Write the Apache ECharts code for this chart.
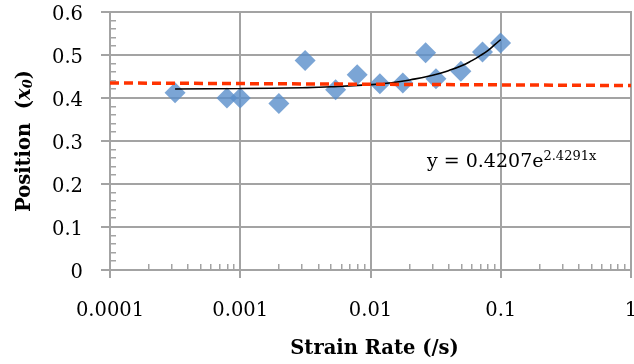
<!DOCTYPE html>
<html><head><meta charset="utf-8">
<script src="https://cdn.jsdelivr.net/npm/echarts@6/dist/echarts.min.js"></script>
<style>html,body{margin:0;padding:0;background:#fff}#c{width:634px;height:364px}</style>
</head><body><div id="c"></div>
<script>
// measured points
const strainRate = [0.000316, 0.00079, 0.001, 0.00198, 0.00315, 0.0054, 0.0079, 0.0118, 0.0177, 0.0265, 0.0318, 0.0494, 0.0724, 0.0997];
const position   = [0.412, 0.400, 0.400, 0.387, 0.487, 0.419, 0.454, 0.433, 0.435, 0.505, 0.445, 0.462, 0.507, 0.528];
// exponential trendline
const trendX = [0.000316, 0.001, 0.003, 0.005, 0.01, 0.015, 0.02, 0.03, 0.04, 0.05, 0.06, 0.07, 0.08, 0.09, 0.1];
const trendY = [0.421, 0.422, 0.424, 0.426, 0.431, 0.436, 0.442, 0.453, 0.464, 0.475, 0.487, 0.499, 0.511, 0.524, 0.536];
// red dashed reference line
const refX = [0.0001, 1];
const refY = [0.435, 0.429];
// axes
const xMajorTicks = [0.0001, 0.001, 0.01, 0.1, 1];
const xTickLabels = ['0.0001', '0.001', '0.01', '0.1', '1'];
const yMajorTicks = [0, 0.1, 0.2, 0.3, 0.4, 0.5, 0.6];
const yTickLabels = ['0', '0.1', '0.2', '0.3', '0.4', '0.5', '0.6'];
const xMinorTicks = [0.0002,0.0003,0.0004,0.0005,0.0006,0.0007,0.0008,0.0009,
  0.002,0.003,0.004,0.005,0.006,0.007,0.008,0.009,
  0.02,0.03,0.04,0.05,0.06,0.07,0.08,0.09,
  0.2,0.3,0.4,0.5,0.6,0.7,0.8,0.9];
const yMinorTicks = [0.02,0.04,0.06,0.08,0.12,0.14,0.16,0.18,0.22,0.24,0.26,0.28,
  0.32,0.34,0.36,0.38,0.42,0.44,0.46,0.48,0.52,0.54,0.56,0.58];
const equationMain = 'y = 0.4207e';
const equationExp = '2.4291x';

const FONT = 'DejaVu Serif';
const GRID = '#A3A3A3';
const X0 = xMajorTicks[0], X1 = xMajorTicks[xMajorTicks.length - 1];
const Y0 = yMajorTicks[0], Y1 = yMajorTicks[yMajorTicks.length - 1];
const chart = echarts.init(document.getElementById('c'), null, {renderer: 'canvas'});
const zip = (a, b) => a.map((v, i) => [v, b[i]]);

function deco(data, renderItem, z) {
  return {type: 'custom', silent: true, clip: false, z: z || 1, data: data, renderItem: renderItem};
}

chart.setOption({
  animation: false,
  grid: {left: 110, right: 3, top: 12, bottom: 94},
  xAxis: {
    type: 'log', logBase: 10, min: X0, max: X1,
    name: 'Strain Rate (/s)', nameLocation: 'middle', nameGap: 69,
    nameTextStyle: {fontFamily: FONT, fontWeight: 'bold', fontSize: 19.5, color: '#000', padding: [0, 0, 0, 8]},
    axisLine: {show: false}, axisTick: {show: false}, axisLabel: {show: false}, splitLine: {show: false}
  },
  yAxis: {
    type: 'value', min: Y0, max: Y1, interval: 0.1,
    name: '{n|Position  (}{i|x}{s|0}{n|)}', nameLocation: 'middle', nameGap: 75, nameRotate: 90,
    nameTextStyle: {
      rich: {
        n: {fontFamily: FONT, fontWeight: 'bold', fontSize: 19.5, color: '#000'},
        i: {fontFamily: FONT, fontWeight: 'bold', fontStyle: 'italic', fontSize: 19.5, color: '#000'},
        s: {fontFamily: FONT, fontWeight: 'bold', fontStyle: 'italic', fontSize: 13, color: '#000', verticalAlign: 'bottom', padding: [7, 0, 0, 0]}
      }
    },
    axisLine: {show: false}, axisTick: {show: false}, axisLabel: {show: false}, splitLine: {show: false}
  },
  series: [
    // vertical grid lines + outside major ticks
    deco(xMajorTicks.map((v, i) => [v, Y0, i]), (p, api) => {
      const a = api.coord([api.value(0), Y0]);
      const b = api.coord([api.value(0), Y1]);
      return {type: 'rect', shape: {x: Math.round(a[0]) - 1, y: b[1] - 1, width: 2, height: a[1] - b[1] + 9},
        style: {fill: GRID}};
    }),
    // horizontal grid lines + outside major ticks
    deco(yMajorTicks.map((v, i) => [X0, v, i]), (p, api) => {
      const a = api.coord([X0, api.value(1)]);
      const b = api.coord([X1, api.value(1)]);
      return {type: 'rect', shape: {x: a[0] - 9, y: Math.round(a[1]) - 1, width: b[0] - a[0] + 10, height: 2},
        style: {fill: GRID}};
    }),
    // x minor ticks (inside)
    deco(xMinorTicks.map(v => [v, Y0]), (p, api) => {
      const a = api.coord([api.value(0), Y0]);
      return {type: 'rect', shape: {x: Math.round(a[0]) - 1, y: a[1] - 6, width: 1.5, height: 6},
        style: {fill: GRID}};
    }),
    // y minor ticks (inside)
    deco(yMinorTicks.map(v => [X0, v]), (p, api) => {
      const a = api.coord([X0, api.value(1)]);
      return {type: 'rect', shape: {x: a[0], y: Math.round(a[1]) - 1, width: 6, height: 1.5},
        style: {fill: GRID}};
    }),
    // x tick labels
    deco(xMajorTicks.map((v, i) => [v, Y0, i]), (p, api) => {
      const a = api.coord([api.value(0), Y0]);
      return {type: 'text', x: a[0], y: a[1] + 41,
        style: {text: xTickLabels[api.value(2)], fontFamily: FONT, fontSize: 19.5, fill: '#000',
          align: 'center', verticalAlign: 'middle'}};
    }, 2),
    // y tick labels
    deco(yMajorTicks.map((v, i) => [X0, v, i]), (p, api) => {
      const a = api.coord([X0, api.value(1)]);
      return {type: 'text', x: a[0] - 27, y: a[1] + 3,
        style: {text: yTickLabels[api.value(2)], fontFamily: FONT, fontSize: 19.5, fill: '#000',
          align: 'right', verticalAlign: 'middle'}};
    }, 2),
    {
      type: 'scatter', z: 3, symbol: 'diamond', symbolSize: 21,
      itemStyle: {color: '#5A8FCB'},
      data: zip(strainRate, position)
    },
    {
      type: 'line', z: 4, symbol: 'none', smooth: true,
      lineStyle: {color: '#000', width: 1.6},
      data: zip(trendX, trendY)
    },
    {
      type: 'line', z: 5, symbol: 'none',
      lineStyle: {color: '#FF3300', width: 3.5, type: [9, 5]},
      data: zip(refX, refY)
    }
  ],
  graphic: [{
    type: 'text', left: 427, top: 150, z: 10,
    style: {
      text: '{m|' + equationMain + '}{e|' + equationExp + '}',
      rich: {
        m: {fontFamily: FONT, fontSize: 19, color: '#000', verticalAlign: 'bottom'},
        e: {fontFamily: FONT, fontSize: 13, color: '#000', verticalAlign: 'bottom', padding: [0, 0, 9, 0]}
      }
    }
  }]
});
</script>
</body></html>
